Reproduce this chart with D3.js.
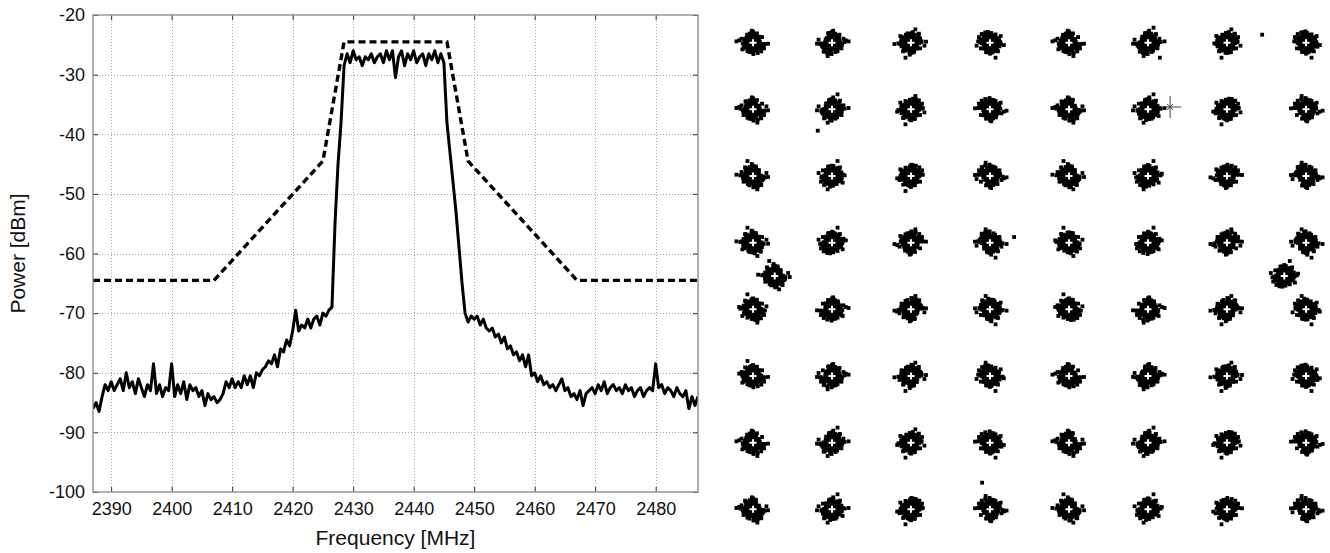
<!DOCTYPE html>
<html>
<head>
<meta charset="utf-8">
<script src="https://cdn.jsdelivr.net/npm/d3@7"></script>
<style>
  body { margin: 0; background: #fff; }
  svg text { font-family: "Liberation Sans", Arial, sans-serif; fill: #111; }
</style>
</head>
<body>
<svg id="chart" width="1330" height="553"></svg>
<script>
// ---- spectrum data (0.5 MHz steps from 2387 MHz) ----
const freqStart = 2387;
const freqStep = 0.5;
const spectrumDbm = [
  -86, -85, -86.5, -84, -82, -83, -81.5, -83, -82, -81,
  -83, -80, -82.5, -81.5, -83.5, -81, -82.5, -84, -82, -83,
  -78.5, -83.5, -82, -84, -82.5, -83, -78.5, -84, -82, -83.5,
  -81.5, -84.5, -82, -83, -82.5, -84, -83, -85.5, -83.5, -84.5,
  -84, -85, -84.5, -83.5, -81.5, -82.5, -81, -82.5, -81.5, -82.5,
  -80.5, -82, -80.5, -82.5, -80, -80.5, -79.5, -79, -78, -78.5,
  -77, -79, -76, -76.5, -74.5, -75.5, -73, -69.5, -73, -72,
  -72.5, -71, -72.5, -71, -70.5, -72, -70, -70.5, -69.5, -69,
  -55, -45, -38, -28.5, -26.5, -28, -26, -27.5, -27, -28.5,
  -27, -27.5, -26.5, -28, -27, -26.5, -28, -26, -27.5, -26,
  -30.5, -27, -26, -28.5, -26.5, -27.5, -26, -28, -27, -26.5,
  -28.5, -26.5, -27.5, -26, -28, -26.5, -28, -38, -43, -48,
  -53, -59, -65, -70, -71.5, -70.5, -71, -70.5, -72, -71,
  -72.5, -73, -72.5, -74, -73.5, -75, -74, -76, -75.5, -77,
  -76.5, -78, -77, -79, -77, -80.5, -80, -81.5, -80.5, -82,
  -81.5, -82.5, -82, -83, -82, -81, -83, -82.5, -84, -83.5,
  -84.5, -83, -85.5, -83.5, -83, -82.5, -83.5, -82, -83, -81.5,
  -83.5, -82.5, -82, -83, -82.5, -83.5, -82, -83, -82.5, -84,
  -83, -82.5, -84, -83, -82.5, -83, -78.5, -82.5, -82, -83.5,
  -82.5, -83, -84, -82.5, -83.5, -84, -83, -86, -84, -85.5,
  -84
];

// ---- spectral mask ----
const maskFreq = [2387, 2407, 2425, 2428.5, 2445.5, 2449, 2467, 2487];
const maskDbm = [-64.5, -64.5, -44.5, -24.5, -24.5, -44.5, -64.5, -64.5];

const freqTicks = [2390, 2400, 2410, 2420, 2430, 2440, 2450, 2460, 2470, 2480];
const powerTicks = [-100, -90, -80, -70, -60, -50, -40, -30, -20];

// ---- constellation data ----
const levels = [-7, -5, -3, -1, 1, 3, 5, 7];
const pilotPoints = [[-6.45, 0], [6.45, 0]];
const starPoint = [3.56, 5.07];
const strayPoints = [[5.89, 7.24], [-0.39, 1.17], [-5.36, 4.36], [3.3, 6.55], [-1.2, -6.2]];

// received-sample offsets around an ideal point, I / Q units
const noiseI = [
  0.02, -0.08, 0.11, -0.15, 0.05, 0.19, -0.21, 0.09, -0.03, 0.14,
  -0.12, 0.24, -0.06, 0.01, -0.18, 0.07, 0.16, -0.25, 0.12, -0.09,
  0.04, -0.14, 0.21, -0.02, 0.08, -0.19, 0.27, -0.11, 0.15, -0.05,
  0.10, -0.23, 0.03, 0.18, -0.07, 0.13, -0.16, 0.06, -0.28, 0.20,
  -0.01, 0.09, -0.13, 0.23, -0.10, 0.17, -0.04, 0.35, -0.20, 0.00,
  0.12, -0.17, 0.07, -0.24, 0.14, -0.08, 0.22, -0.12, 0.05, -0.30,
  0.16, -0.03, 0.10, -0.15, 0.26, -0.06, 0.02, -0.21, 0.19, -0.09,
  0.08, -0.13, 0.04, 0.29, -0.18, 0.11, -0.01, 0.15, -0.26, 0.06,
  -0.10, 0.20, -0.05, 0.13, -0.16, 0.01, 0.24, -0.08, 0.09, -0.38,
  0.17, -0.12, 0.03, -0.19, 0.11, 0.42, -0.07, 0.14, -0.22, 0.05,
  -0.02, 0.18, -0.14, 0.08, -0.27, 0.21, -0.09, 0.12, 0.00, -0.17,
  0.25, -0.04, 0.07, -0.11, 0.16, -0.23, 0.10, -0.06, 0.32, -0.15,
  0.04, -0.20, 0.13, -0.01, 0.19, -0.10, 0.06, -0.34, 0.15, -0.07,
  0.22, -0.13, 0.09, -0.18, 0.02, 0.12, -0.25, 0.17, -0.05, 0.08,
  -0.16, 0.28, -0.08, 0.11, -0.03, 0.20, -0.12, 0.05, -0.21, 0.14
];
const noiseQ = [
  -0.05, 0.12, 0.03, -0.18, 0.22, -0.09, 0.07, 0.16, -0.26, 0.01,
  0.19, -0.11, -0.02, 0.27, 0.08, -0.21, 0.14, 0.04, -0.15, 0.23,
  -0.30, 0.10, -0.06, 0.18, -0.13, 0.05, 0.20, -0.08, -0.24, 0.15,
  0.02, -0.17, 0.29, -0.04, 0.11, -0.22, 0.09, -0.12, 0.17, -0.01,
  0.24, -0.19, 0.06, 0.13, -0.28, 0.00, 0.21, -0.07, 0.10, -0.33,
  0.16, -0.03, -0.14, 0.08, 0.25, -0.10, 0.12, 0.31, -0.20, 0.04,
  -0.09, 0.19, -0.23, 0.07, 0.02, 0.14, -0.16, 0.26, -0.05, 0.11,
  -0.27, 0.06, 0.20, -0.12, 0.15, -0.02, 0.34, -0.18, 0.09, -0.07,
  0.13, 0.00, -0.21, 0.23, 0.05, -0.11, 0.17, -0.25, 0.28, 0.03,
  -0.14, 0.10, -0.36, 0.18, 0.07, -0.04, 0.22, -0.16, 0.12, 0.01,
  0.29, -0.08, 0.14, -0.19, 0.04, 0.16, -0.12, 0.24, -0.31, 0.09,
  0.06, -0.22, 0.11, 0.40, -0.06, 0.13, -0.15, 0.21, -0.02, 0.08,
  -0.18, 0.27, -0.10, 0.15, -0.24, 0.03, 0.19, -0.09, 0.12, -0.29,
  0.05, 0.17, -0.13, 0.25, -0.07, 0.10, 0.02, -0.20, 0.32, -0.11,
  0.14, -0.04, 0.23, -0.17, 0.08, -0.26, 0.11, 0.18, -0.01, -0.45
];
// dense core of each cloud, I / Q units
const coreI = [
  0.00, 0.06, -0.05, 0.10, -0.09, 0.03, -0.12, 0.13, -0.02, 0.08,
  -0.07, 0.15, -0.14, 0.04, 0.11, -0.10, 0.01, -0.04, 0.09, -0.13,
  0.12, -0.06, 0.05, -0.11, 0.14, -0.01, 0.07, -0.15, 0.02, 0.10,
  -0.08, 0.16, -0.03, 0.06, -0.12, 0.11, -0.05, 0.13, -0.09, 0.00,
  0.04, -0.14, 0.09, -0.02, 0.12, -0.07, 0.15, -0.10, 0.03, -0.16,
  0.08, -0.04, 0.11, -0.13, 0.01, 0.14, -0.06, 0.05, -0.11, 0.10,
  -0.01, 0.07, -0.15, 0.12, -0.08, 0.02, -0.12, 0.16, -0.03, 0.06,
  0.13, -0.09, 0.00, -0.14, 0.09, -0.05, 0.04, 0.11, -0.10, 0.15
];
const coreQ = [
  0.00, -0.12, 0.08, 0.04, -0.06, 0.15, -0.03, -0.10, 0.13, 0.09,
  -0.16, 0.02, 0.07, -0.14, -0.05, 0.11, 0.17, -0.09, -0.15, 0.05,
  0.10, -0.02, -0.18, 0.14, 0.03, -0.11, 0.16, -0.04, 0.06, -0.13,
  0.12, -0.07, 0.18, -0.15, 0.01, 0.08, -0.17, 0.14, 0.10, -0.08,
  -0.03, 0.11, -0.12, 0.16, -0.10, 0.05, 0.00, 0.13, -0.16, -0.02,
  0.15, -0.18, 0.07, -0.04, 0.12, -0.09, 0.18, -0.13, 0.09, 0.02,
  -0.06, 0.17, -0.11, -0.01, 0.14, -0.15, 0.06, 0.10, -0.07, 0.03,
  -0.14, 0.16, -0.09, 0.01, 0.11, -0.16, 0.08, -0.05, 0.13, -0.12
];

const svg = d3.select("#chart");

// ================= spectrum panel =================
const pLeft = 93, pRight = 698, pTop = 15, pBottom = 492;

const x = d3.scaleLinear().domain([2387, 2487]).range([pLeft, pRight]);
const y = d3.scaleLinear().domain([-100, -20]).range([pBottom, pTop]);

const freqs = spectrumDbm.map((d, i) => freqStart + i * freqStep);

// dotted grid
const grid = svg.append("g").attr("stroke", "#a8a8a8").attr("stroke-width", 1)
  .attr("stroke-dasharray", "1,2");
grid.selectAll(".gx").data(freqTicks).join("line")
  .attr("x1", d => Math.round(x(d)) + 0.5).attr("x2", d => Math.round(x(d)) + 0.5)
  .attr("y1", pTop).attr("y2", pBottom);
grid.selectAll(".gy").data(powerTicks.slice(1, -1)).join("line")
  .attr("y1", d => Math.round(y(d)) + 0.5).attr("y2", d => Math.round(y(d)) + 0.5)
  .attr("x1", pLeft).attr("x2", pRight);

svg.append("defs").append("clipPath").attr("id", "plotClip")
  .append("rect").attr("x", pLeft).attr("y", pTop)
  .attr("width", pRight - pLeft).attr("height", pBottom - pTop);

const plot = svg.append("g").attr("clip-path", "url(#plotClip)");

// spectral mask (dashed)
plot.append("path")
  .attr("d", d3.line().x((d, i) => x(maskFreq[i])).y(d => y(d))(maskDbm))
  .attr("fill", "none").attr("stroke", "#000").attr("stroke-width", 3.4)
  .attr("stroke-dasharray", "7,4");

// measured spectrum
plot.append("path")
  .attr("d", d3.line().x((d, i) => x(freqs[i])).y(d => y(d))(spectrumDbm))
  .attr("fill", "none").attr("stroke", "#000").attr("stroke-width", 3)
  .attr("stroke-linejoin", "round");

// axes with inward ticks
const plainFormat = d => String(d);
function styleAxis(g) {
  g.select(".domain").remove();
  g.selectAll(".tick line").attr("stroke", "#333");
  g.selectAll(".tick text").attr("font-size", 18)
    .attr("font-family", '"Liberation Sans", Arial, sans-serif').attr("fill", "#111");
}
svg.append("g").attr("transform", `translate(0,${pBottom})`)
  .call(d3.axisBottom(x).tickValues(freqTicks).tickSizeInner(-5).tickSizeOuter(0)
    .tickPadding(10).tickFormat(plainFormat))
  .call(styleAxis);
svg.append("g").attr("transform", `translate(0,${pTop})`)
  .call(d3.axisTop(x).tickValues(freqTicks).tickSizeInner(-5).tickSizeOuter(0).tickFormat(""))
  .call(styleAxis);
svg.append("g").attr("transform", `translate(${pLeft},0)`)
  .call(d3.axisLeft(y).tickValues(powerTicks).tickSizeInner(-5).tickSizeOuter(0)
    .tickPadding(8).tickFormat(plainFormat))
  .call(styleAxis);
svg.append("g").attr("transform", `translate(${pRight},0)`)
  .call(d3.axisRight(y).tickValues(powerTicks).tickSizeInner(-5).tickSizeOuter(0).tickFormat(""))
  .call(styleAxis);

// frame
svg.append("rect").attr("x", pLeft).attr("y", pTop)
  .attr("width", pRight - pLeft).attr("height", pBottom - pTop)
  .attr("fill", "none").attr("stroke", "#8f8f8f").attr("stroke-width", 1.4);

svg.append("text").attr("x", (pLeft + pRight) / 2).attr("y", 545)
  .attr("text-anchor", "middle").attr("font-size", 21).text("Frequency [MHz]");
svg.append("text")
  .attr("transform", `translate(25,${(pTop + pBottom) / 2}) rotate(-90)`)
  .attr("text-anchor", "middle").attr("font-size", 21).text("Power [dBm]");

// ================= constellation panel =================
const ci = d3.scaleLinear().domain([-7, 7]).range([753, 1306]);
const cq = d3.scaleLinear().domain([-7, 7]).range([509.3, 42.7]);

const ideal = [];
levels.forEach(q => levels.forEach(i => ideal.push([i, -q])));
pilotPoints.forEach(p => ideal.push(p));

const samples = [];
ideal.forEach((p, k) => {
  const start = (k * 41) % noiseI.length;
  const sx = k % 2 ? 1 : -1;
  const sy = Math.floor(k / 2) % 2 ? 1 : -1;
  coreI.forEach((d, j) => samples.push([p[0] + sy * d, p[1] + sx * coreQ[j]]));
  for (let n = 0; n < 100; n++) {
    const j = (start + n) % noiseI.length;
    samples.push([p[0] + sx * noiseI[j], p[1] + sy * noiseQ[j]]);
  }
});
strayPoints.forEach(p => samples.push(p));

const cons = svg.append("g");
cons.selectAll("rect.s").data(samples).join("rect")
  .attr("x", d => ci(d[0]) - 1.9).attr("y", d => cq(d[1]) - 1.9)
  .attr("width", 3.8).attr("height", 3.8).attr("fill", "#000");

// white ideal-point crosses
cons.selectAll("path.c").data(ideal).join("path")
  .attr("d", d => `M${ci(d[0]) - 3.5},${cq(d[1])}h7M${ci(d[0])},${cq(d[1]) - 3.5}v7`)
  .attr("stroke", "#fff").attr("stroke-width", 2);

// star marker
const sxp = ci(starPoint[0]), syp = cq(starPoint[1]);
cons.append("path")
  .attr("d", `M${sxp - 9},${syp}h20M${sxp},${syp - 11}v22M${sxp - 3},${syp - 3}l6,6M${sxp - 3},${syp + 3}l6,-6`)
  .attr("stroke", "#444").attr("stroke-width", 1);
</script>
</body>
</html>
